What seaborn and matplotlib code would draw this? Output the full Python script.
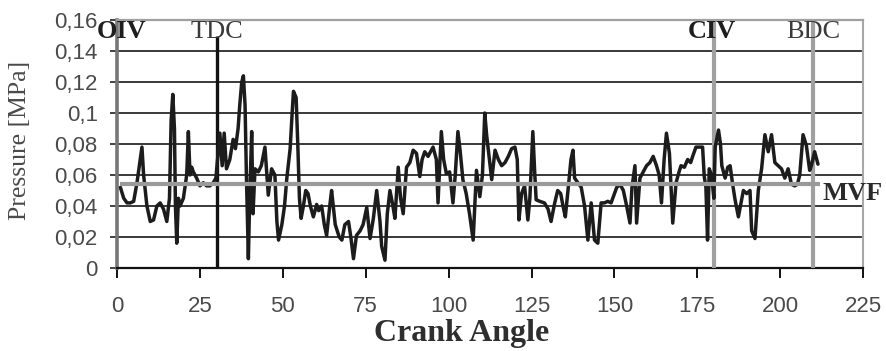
import numpy as np
import pandas as pd
import matplotlib
matplotlib.use("Agg")
import matplotlib.pyplot as plt
import seaborn as sns

# ------------------------------------------------------------
# Data
angle = [1.0, 2.0, 3.0, 4.0, 5.0, 6.0, 7.0, 7.5, 8.0, 9.0, 10.0, 11.0, 12.0, 13.0, 14.0,
         15.0, 15.8, 16.3, 16.8, 17.3, 17.6, 18.0, 18.5, 19.0, 20.0, 21.0, 21.5, 22.0,
         22.5, 23.0, 24.0, 25.0, 26.0, 27.0, 28.0, 29.0, 29.8, 30.3, 31.0, 31.7, 32.3,
         33.0, 34.0, 35.0, 35.7, 36.5, 37.0, 37.6, 38.1, 38.6, 39.0, 39.6, 40.0, 40.6,
         41.0, 41.6, 42.6, 43.5, 44.6, 45.6, 46.6, 47.6, 48.2, 48.7, 49.7, 50.5, 51.2,
         52.2, 52.8, 53.2, 54.0, 54.5, 55.0, 55.5, 56.2, 56.9, 57.6, 58.3, 59.2, 60.2,
         60.8, 61.7, 62.5, 63.2, 64.2, 64.7, 65.2, 65.8, 67.0, 67.8, 68.7, 69.8, 70.5,
         71.3, 72.2, 73.3, 74.2, 75.3, 76.3, 77.3, 78.3, 79.3, 79.8, 80.8, 81.5, 82.3,
         83.2, 83.8, 84.8, 85.5, 86.3, 87.3, 88.3, 89.3, 90.3, 91.3, 92.0, 92.8, 93.8,
         95.3, 96.3, 96.8, 97.8, 98.5, 99.3, 100.3, 101.3, 102.0, 102.8, 103.5, 104.3,
         105.3, 106.3, 107.4, 108.4, 109.4, 110.2, 110.9, 111.5, 112.3, 113.0, 114.0,
         115.0, 116.0, 117.0, 118.0, 119.0, 120.0, 120.7, 121.2, 122.0, 122.9, 123.9,
         124.5, 125.4, 126.0, 126.4, 127.5, 128.9, 130.0, 130.9, 132.0, 132.9, 133.8,
         134.5, 135.2, 136.0, 136.9, 137.5, 138.0, 139.0, 140.0, 141.0, 142.0, 143.0,
         144.0, 145.0, 146.0, 147.0, 148.0, 149.0, 150.0, 150.7, 151.7, 152.7, 153.7,
         154.7, 155.3, 156.2, 156.7, 157.7, 158.7, 159.7, 160.7, 161.7, 162.7, 163.5,
         164.2, 165.0, 165.7, 166.6, 167.6, 168.6, 169.5, 170.1, 171.1, 172.1, 173.0,
         173.6, 174.6, 175.6, 176.6, 177.1, 177.6, 178.1, 178.6, 179.3, 180.0, 180.4,
         181.4, 182.0, 182.4, 183.4, 184.2, 184.9, 185.6, 186.4, 187.4, 188.2, 188.9,
         189.9, 190.9, 191.4, 192.4, 193.4, 194.4, 195.4, 196.4, 197.4, 198.4, 199.4,
         200.4, 201.4, 202.4, 203.4, 204.4, 205.2, 205.9, 206.9, 207.9, 208.9, 209.4,
         210.4, 211.4]

pressure = [0.052, 0.045, 0.042, 0.042, 0.043, 0.055, 0.070, 0.078, 0.060, 0.040, 0.030,
            0.031, 0.040, 0.042, 0.038, 0.030, 0.045, 0.095, 0.112, 0.090, 0.040, 0.016,
            0.045, 0.040, 0.045, 0.060, 0.088, 0.060, 0.065, 0.062, 0.058, 0.053, 0.055,
            0.053, 0.053, 0.055, 0.058, 0.070, 0.087, 0.066, 0.087, 0.064, 0.070, 0.083,
            0.077, 0.090, 0.105, 0.120, 0.124, 0.105, 0.060, 0.006, 0.045, 0.088, 0.035,
            0.064, 0.062, 0.066, 0.078, 0.047, 0.064, 0.060, 0.030, 0.018, 0.028, 0.040,
            0.058, 0.077, 0.100, 0.114, 0.110, 0.080, 0.045, 0.032, 0.040, 0.050, 0.048,
            0.040, 0.033, 0.041, 0.037, 0.040, 0.028, 0.021, 0.041, 0.050, 0.040, 0.028,
            0.020, 0.018, 0.028, 0.030, 0.020, 0.006, 0.021, 0.024, 0.028, 0.039, 0.019,
            0.032, 0.050, 0.030, 0.014, 0.005, 0.035, 0.050, 0.040, 0.032, 0.065, 0.045,
            0.035, 0.065, 0.068, 0.076, 0.074, 0.059, 0.070, 0.075, 0.072, 0.078, 0.070,
            0.042, 0.088, 0.070, 0.061, 0.062, 0.042, 0.060, 0.088, 0.075, 0.057, 0.048,
            0.035, 0.018, 0.063, 0.046, 0.060, 0.100, 0.085, 0.070, 0.057, 0.076, 0.070,
            0.066, 0.068, 0.072, 0.077, 0.078, 0.070, 0.031, 0.048, 0.053, 0.031, 0.045,
            0.088, 0.060, 0.044, 0.043, 0.042, 0.038, 0.030, 0.042, 0.050, 0.048, 0.040,
            0.033, 0.050, 0.070, 0.076, 0.058, 0.055, 0.052, 0.040, 0.018, 0.042, 0.018,
            0.016, 0.042, 0.042, 0.043, 0.042, 0.048, 0.052, 0.054, 0.050, 0.040, 0.029,
            0.052, 0.066, 0.029, 0.058, 0.062, 0.066, 0.068, 0.072, 0.066, 0.060, 0.042,
            0.070, 0.087, 0.074, 0.029, 0.055, 0.062, 0.066, 0.065, 0.070, 0.068, 0.072,
            0.078, 0.078, 0.078, 0.059, 0.052, 0.018, 0.064, 0.060, 0.045, 0.078, 0.089,
            0.080, 0.066, 0.058, 0.065, 0.066, 0.055, 0.044, 0.033, 0.042, 0.050, 0.048,
            0.050, 0.024, 0.019, 0.050, 0.064, 0.086, 0.075, 0.086, 0.068, 0.066, 0.064,
            0.058, 0.064, 0.054, 0.053, 0.054, 0.060, 0.086, 0.079, 0.063, 0.066, 0.075,
            0.067]

# mean value line and event markers
mvf_level = 0.054
mvf_range = [1, 212]
events = ["OIV", "TDC", "CIV", "BDC"]
event_angles = [0, 30, 180, 210]
event_bold = [True, False, True, False]

x_ticks = [0, 25, 50, 75, 100, 125, 150, 175, 200, 225]
y_ticks = [0, 0.02, 0.04, 0.06, 0.08, 0.1, 0.12, 0.14, 0.16]
y_tick_labels = ["0", "0,02", "0,04", "0,06", "0,08", "0,1", "0,12", "0,14", "0,16"]

df = pd.DataFrame({"angle": angle, "pressure": pressure})

# ------------------------------------------------------------
# Plot
sns.set_style("white")
plt.rcParams["font.family"] = ["Liberation Sans", "DejaVu Sans"]

fig, ax = plt.subplots(figsize=(8.87, 3.51), dpi=100)
fig.subplots_adjust(left=0.132, right=0.973, bottom=0.2365, top=0.943)

ax.set_xlim(0, 225)
ax.set_ylim(0, 0.16)

# horizontal grid
for yv in y_ticks[1:-1]:
    ax.axhline(yv, color="#2a2a2a", lw=1.3, zorder=1)

# event lines
ax.vlines(event_angles[1], 0, 0.150, color="#111111", lw=2.4, zorder=3)
ax.vlines(event_angles[2], 0, 0.16, color="#a0a0a0", lw=3, zorder=3)
ax.vlines(event_angles[3], 0, 0.16, color="#a0a0a0", lw=3, zorder=3)

sns.lineplot(data=df, x="angle", y="pressure", ax=ax, color="#1c1c1c",
             lw=2.5, estimator=None, zorder=4)

ax.hlines(mvf_level, mvf_range[0], mvf_range[1], color="#9a9a9a", lw=3, zorder=5)

serif = ["Liberation Serif", "DejaVu Serif"]
label_x = [1.5, 30.1, 179.4, 210.0]
for name, xv, bold in zip(events, label_x, event_bold):
    ax.text(xv, 0.1525, name, ha="center", va="center", family=serif,
            fontsize=19, fontweight="bold" if bold else "normal",
            color="#1e1e1e" if bold else "#3a3a3a", zorder=6, clip_on=False)
ax.text(212.9, 0.048, "MVF", ha="left", va="center", family=serif, fontsize=19,
        fontweight="bold", color="#2a2a2a", clip_on=False, zorder=6)

# axes styling
ax.spines["top"].set_color("#a0a0a0")
ax.spines["top"].set_linewidth(1.6)
ax.spines["right"].set_color("#a8a8a8")
ax.spines["right"].set_linewidth(1.5)
ax.spines["left"].set_color("#777777")
ax.spines["left"].set_linewidth(2.6)
ax.spines["bottom"].set_color("#111111")
ax.spines["bottom"].set_linewidth(1.6)

ax.set_xticks(x_ticks)
ax.set_xticks(np.arange(0, 226, 5), minor=True)
ax.set_yticks(y_ticks)
ax.set_yticklabels(y_tick_labels)
ax.tick_params(axis="x", which="major", direction="out", length=7.5, width=1.4,
               color="#111111", pad=13, labelsize=16, labelcolor="#4a4a4a")
ax.tick_params(axis="x", which="minor", direction="in", length=3, width=1.2,
               color="#111111")
ax.tick_params(axis="y", which="major", direction="out", length=5, width=1.3,
               color="#333333", pad=9, labelsize=16, labelcolor="#4a4a4a")
ax.tick_params(left=True, bottom=True)

ax.set_xlabel("")
ax.set_ylabel("")
fig.text(462 / 887, 1 - 333 / 351, "Crank Angle", ha="center", va="center",
         family=serif, fontsize=23, fontweight="bold", color="#2e2e2e")
fig.text(20 / 887, 1 - 140 / 351, "Pressure [MPa]", ha="center", va="center",
         rotation=90, family=serif, fontsize=18.5, color="#4a4a4a")

fig.savefig("out.png", dpi=100, facecolor="white")
